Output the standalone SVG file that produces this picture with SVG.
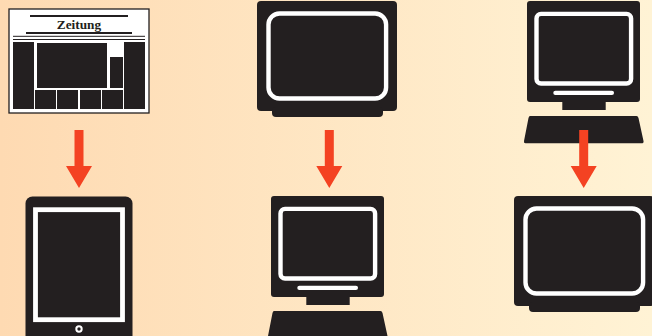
<svg xmlns="http://www.w3.org/2000/svg" width="652" height="336" viewBox="0 0 652 336">
<defs>
<linearGradient id="bg" x1="0" x2="1" y1="0" y2="0"><stop offset="0" stop-color="#fedab2"/><stop offset="1" stop-color="#fff3d5"/></linearGradient>
<g id="arrow"><path d="M-4.500 0H4.500V36H13L0 58L-13 36H-4.500Z"/></g>
<g id="monitor"><rect width="140" height="110" rx="4"/><rect x="15" y="106" width="111" height="10" rx="4"/><rect class="f" x="11.500" y="12.500" width="117.600" height="85" rx="11" stroke-width="4.400"/></g>
<g id="computer"><rect width="113" height="101" rx="3"/><rect class="f" x="9.500" y="12.900" width="94.600" height="69.600" rx="4.500" stroke-width="4.400"/><rect x="26.300" y="89.700" width="60.700" height="4.300" rx="2.100" fill="#fff"/><rect x="35.300" y="100" width="43.400" height="9"/><path d="M3 115H109.500Q111 115 111.500 117L116.500 140Q117 142.300 114.500 142.300H-1.500Q-3.500 142.300 -3 140L1.500 117Q2 115 3 115Z"/></g>
</defs>
<style>
.d{fill:#231f20}
.f{fill:none;stroke:#fff}
.a{fill:#f44222}
</style>
<rect width="652" height="336" fill="url(#bg)"/>
<g id="newspaper" class="d">
<rect x="9" y="9" width="140" height="104" fill="#fff" stroke="#231f20" stroke-width="1.300"/>
<rect x="30" y="15" width="98" height="2"/>
<text x="79" y="28.500" text-anchor="middle" font-family="'Liberation Serif',serif" font-size="13.300" font-weight="700">Zeitung</text>
<rect x="26" y="32" width="106" height="2"/>
<rect x="13" y="35.800" width="132" height="1"/>
<rect x="13" y="39" width="132" height="1"/>
<rect x="13" y="42" width="21" height="67"/>
<rect x="37" y="43" width="70" height="45"/>
<rect x="110" y="57" width="13" height="31"/>
<rect x="124" y="42" width="21" height="67"/>
<rect x="35" y="90" width="21" height="19"/>
<rect x="57" y="90" width="21" height="19"/>
<rect x="80" y="90" width="21" height="19"/>
<rect x="102" y="90" width="21" height="19"/>
</g>
<g id="tablet" class="d">
<rect x="25.500" y="196.500" width="107" height="150" rx="7"/>
<rect class="f" x="35.500" y="209.700" width="87" height="110" stroke-width="4.800"/>
<circle cx="79" cy="329" r="2.700" fill="none" stroke="#fff" stroke-width="2"/>
</g>
<g id="monitor-top" class="d"><use href="#monitor" x="257" y="1"/></g>
<g id="monitor-bottom" class="d"><use href="#monitor" x="514" y="196"/></g>
<g id="computer-top" class="d"><use href="#computer" x="527" y="1"/></g>
<g id="computer-bottom" class="d"><use href="#computer" x="271" y="196"/></g>
<g id="connectors" class="a">
<use href="#arrow" x="79" y="130"/>
<use href="#arrow" x="329.300" y="130"/>
<use href="#arrow" x="583.700" y="130"/>
</g>
</svg>
